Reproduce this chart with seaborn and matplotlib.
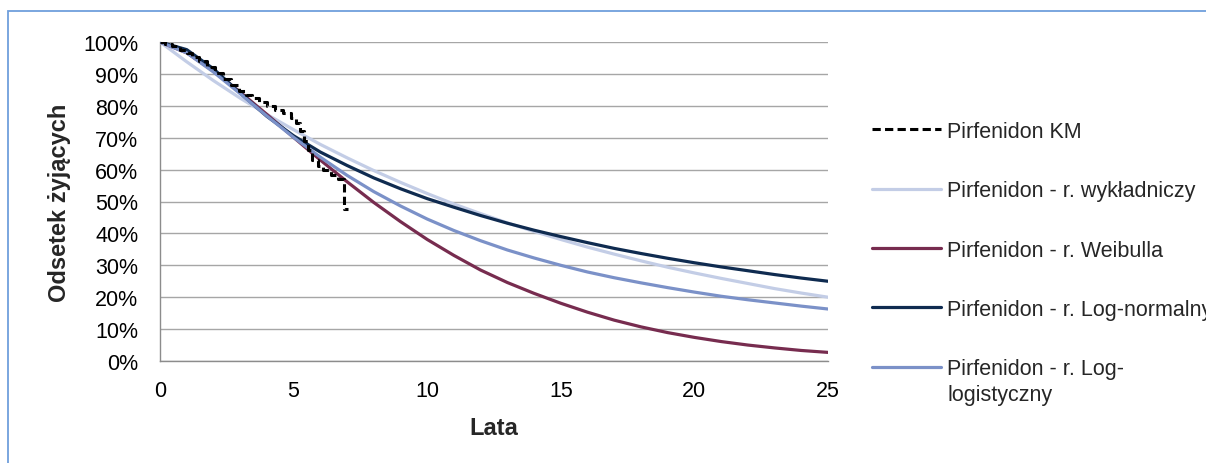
import numpy as np
import pandas as pd
import matplotlib
matplotlib.use("Agg")
import matplotlib.pyplot as plt
from matplotlib.patches import Rectangle
from matplotlib.ticker import FuncFormatter, MultipleLocator
import seaborn as sns

# Survival time axis (years) for the fitted parametric models
years = list(range(0, 26))

# Fitted survival curves, proportion alive (%)
exp_surv = [100, 93.8, 87.9, 82.4, 77.3, 72.5, 67.9, 63.7, 59.7, 56.0, 52.5, 49.2, 46.2,
            43.3, 40.6, 38.1, 35.7, 33.5, 31.4, 29.4, 27.6, 25.9, 24.3, 22.7, 21.3, 20.0]
weibull_surv = [100, 96.6, 90.9, 84.3, 77.3, 70.1, 63.0, 56.2, 49.7, 43.7, 38.1, 33.1, 28.5,
                24.6, 21.2, 18.1, 15.3, 12.8, 10.7, 8.9, 7.4, 6.1, 5.0, 4.1, 3.3, 2.7]
lognorm_surv = [100, 97.6, 91.6, 84.0, 76.7, 70.6, 65.5, 61.3, 57.4, 54.0, 50.9, 48.2, 45.6,
                43.2, 41.0, 39.0, 37.1, 35.3, 33.7, 32.2, 30.8, 29.5, 28.3, 27.1, 26.0, 25.0]
loglog_surv = [100, 96.6, 90.6, 83.8, 76.8, 70.1, 63.9, 58.2, 53.1, 48.6, 44.5, 40.9, 37.7,
               34.8, 32.3, 30.0, 27.9, 26.1, 24.5, 23.0, 21.6, 20.3, 19.2, 18.2, 17.2, 16.3]

# Kaplan-Meier estimate (step function)
km_time = [0, 0.2, 0.45, 0.75, 1.0, 1.2, 1.45, 1.75, 2.05, 2.35, 2.65, 2.95, 3.2, 3.45,
           3.7, 4.0, 4.3, 4.6, 4.9, 5.1, 5.25, 5.4, 5.55, 5.7, 5.9, 6.1, 6.4, 6.65, 6.88, 7.05]
km_surv = [100, 99.4, 98.7, 97.5, 96.4, 95.3, 94.0, 92.3, 90.4, 88.5, 86.6, 84.6, 83.4,
           82.5, 81.2, 80.0, 78.6, 77.6, 76.3, 74.5, 72.0, 69.0, 66.0, 63.0, 61.0, 59.8,
           58.3, 57.2, 47.5, 47.5]

labels = ["Pirfenidon KM",
          "Pirfenidon - r. wykładniczy",
          "Pirfenidon - r. Weibulla",
          "Pirfenidon - r. Log-normalny",
          "Pirfenidon - r. Log-"]
label_tail = "logistyczny"
colors = ["#000000", "#c3cde6", "#772c4f", "#0f2b50", "#7b91c8"]

sns.set_style("white")
plt.rcParams["font.family"] = ["Liberation Sans", "DejaVu Sans"]

fig = plt.figure(figsize=(12.06, 4.64), dpi=100)
ax = fig.add_axes([160 / 1206, 1 - 362 / 464, 668 / 1206, 319 / 464])

model_series = [exp_surv, weibull_surv, lognorm_surv, loglog_surv]
for vals, lab, col in zip(model_series, labels[1:], colors[1:]):
    sns.lineplot(x=years, y=vals, ax=ax, color=col, linewidth=2.3, label=lab, zorder=3)

sns.lineplot(x=km_time, y=km_surv, ax=ax, color=colors[0], linewidth=2.2,
             linestyle=(0, (2.7, 1.4)), drawstyle="steps-post", label=labels[0], zorder=4)

ax.set_xlim(0, 25)
ax.set_ylim(0, 100)
ax.xaxis.set_major_locator(MultipleLocator(5))
ax.yaxis.set_major_locator(MultipleLocator(10))
ax.yaxis.set_major_formatter(FuncFormatter(lambda v, p: f"{v:.0f}%"))

ax.grid(axis="y", color="#a6a6a6", linewidth=1.0)
ax.grid(axis="x", visible=False)
ax.set_axisbelow(True)
for side in ["top", "right"]:
    ax.spines[side].set_visible(False)
for side in ["left", "bottom"]:
    ax.spines[side].set_color("#8c8c8c")
    ax.spines[side].set_linewidth(1.0)

ax.tick_params(axis="both", which="major", direction="out", length=5.5, width=1.0,
               color="#8c8c8c", labelsize=15.5, labelcolor="#000000")
ax.tick_params(axis="y", pad=10)
ax.tick_params(axis="x", pad=8)

ax.set_xlabel("Lata", fontsize=17, fontweight="bold", labelpad=11)
ax.set_ylabel("Odsetek żyjących", fontsize=17, fontweight="bold", labelpad=9)

handles, labs = ax.get_legend_handles_labels()
order = [labs.index(l) for l in labels]
leg = ax.get_legend()
if leg is not None:
    leg.remove()
leg = ax.legend([handles[i] for i in order], [labs[i] for i in order],
                loc="upper left", bbox_to_anchor=(872 / 1206, 1 - 122 / 464),
                bbox_transform=fig.transFigure, frameon=False, fontsize=15.5,
                handlelength=3.2, handletextpad=0.3, labelspacing=1.78,
                borderpad=0, borderaxespad=0)
fig.canvas.draw()

# Second line of the last legend label, set directly beneath its first line
last_text = leg.get_texts()[-1]
ax.annotate(label_tail, xy=(0, 0), xycoords=last_text, xytext=(0, -3.5),
            textcoords="offset points", ha="left", va="top", fontsize=15.5,
            annotation_clip=False, zorder=10)

# Outer chart frame
fig.patches.append(Rectangle((8 / 1206, -0.1), 1.2, 1 - 12 / 464 + 0.1,
                             transform=fig.transFigure, fill=False,
                             edgecolor="#6f9fdc", linewidth=1.3))

fig.savefig("out.png", dpi=100)
